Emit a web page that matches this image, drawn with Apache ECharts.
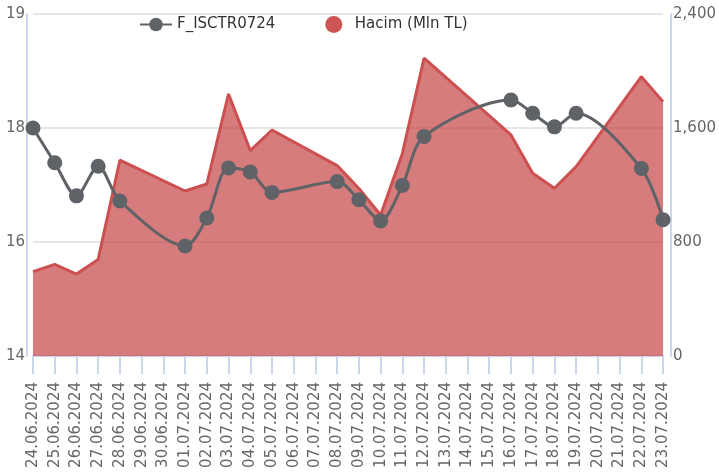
<!DOCTYPE html>
<html><head><meta charset="utf-8">
<script src="https://cdn.jsdelivr.net/npm/echarts@6/dist/echarts.min.js"></script>
<style>html,body{margin:0;padding:0;background:#fff}#c{width:719px;height:472px}</style>
</head><body><div id="c"></div>
<script>
var categories = ['24.06.2024','25.06.2024','26.06.2024','27.06.2024','28.06.2024','29.06.2024','30.06.2024',
'01.07.2024','02.07.2024','03.07.2024','04.07.2024','05.07.2024','06.07.2024','07.07.2024','08.07.2024',
'09.07.2024','10.07.2024','11.07.2024','12.07.2024','13.07.2024','14.07.2024','15.07.2024','16.07.2024',
'17.07.2024','18.07.2024','19.07.2024','20.07.2024','21.07.2024','22.07.2024','23.07.2024'];
var priceSeries = [18.00,17.39,16.81,17.33,16.72,null,null,15.93,16.42,17.30,17.23,16.87,null,null,17.06,
16.74,16.37,16.99,17.85,null,null,null,18.49,18.26,18.02,18.26,null,null,17.29,16.39];
var volumeSeries = [592,643,575,678,1375,null,null,1158,1207,1839,1441,1586,null,null,1336,
1176,990,1420,2090,null,null,null,1551,1282,1177,1329,null,null,1960,1785];
var leftTickLabels = ['14','16','18','19'];
var seriesNames = ['F_ISCTR0724','Hacim (Mln TL)'];

function present(arr){
  var out = [];
  arr.forEach(function(v, i){ if (v !== null) out.push([i, v]); });
  return out;
}

var font = 'DejaVu Sans';
var axisBlue = '#cdd7ec';
var chart = echarts.init(document.getElementById('c'), null, {renderer:'canvas'});
chart.setOption({
  animation:false,
  textStyle:{fontFamily:font},
  legend:{
    top:11, left:134, itemGap:50, itemWidth:32, itemHeight:17,
    textStyle:{fontFamily:font, fontSize:15, color:'#333'},
    data:[{name:seriesNames[0]},{name:seriesNames[1], icon:'circle'}]
  },
  grid:{left:33, right:54, top:14, bottom:116},
  xAxis:{
    type:'category', data:categories, boundaryGap:false,
    axisLine:{lineStyle:{color:axisBlue, width:2}},
    axisTick:{alignWithLabel:true, length:18, lineStyle:{color:axisBlue, width:2}},
    axisLabel:{rotate:90, interval:0, fontSize:15, color:'#666', fontFamily:font, margin:26}
  },
  yAxis:[{
    type:'value', min:14, max:20, interval:2, offset:6,
    axisLine:{show:true, lineStyle:{color:axisBlue, width:2}},
    axisTick:{show:false},
    splitLine:{show:true, lineStyle:{color:'#e6e6e6', width:2}},
    axisLabel:{fontSize:15, color:'#666', fontFamily:font, margin:2,
      formatter:function(v, i){ return leftTickLabels[i]; }}
  },{
    type:'value', min:0, max:2400, interval:800, offset:8, position:'right',
    axisLine:{show:true, lineStyle:{color:axisBlue, width:2}},
    axisTick:{show:false},
    splitLine:{show:false},
    axisLabel:{fontSize:15, color:'#666', fontFamily:font, margin:2,
      formatter:function(v){ return v.toLocaleString('en-US'); }}
  }],
  series:[{
    name:seriesNames[1], type:'line', yAxisIndex:1, data:present(volumeSeries),
    symbol:'none', z:1,
    itemStyle:{color:'#cd5555'},
    lineStyle:{color:'#cc5050', width:3},
    areaStyle:{color:'rgb(196,60,60)', opacity:0.67}
  },{
    name:seriesNames[0], type:'line', yAxisIndex:0, data:present(priceSeries),
    smooth:0.3, symbol:'circle', symbolSize:15, showSymbol:true, z:3,
    itemStyle:{color:'#5f6368'},
    lineStyle:{color:'#5f6368', width:3}
  }]
});
</script></body></html>
